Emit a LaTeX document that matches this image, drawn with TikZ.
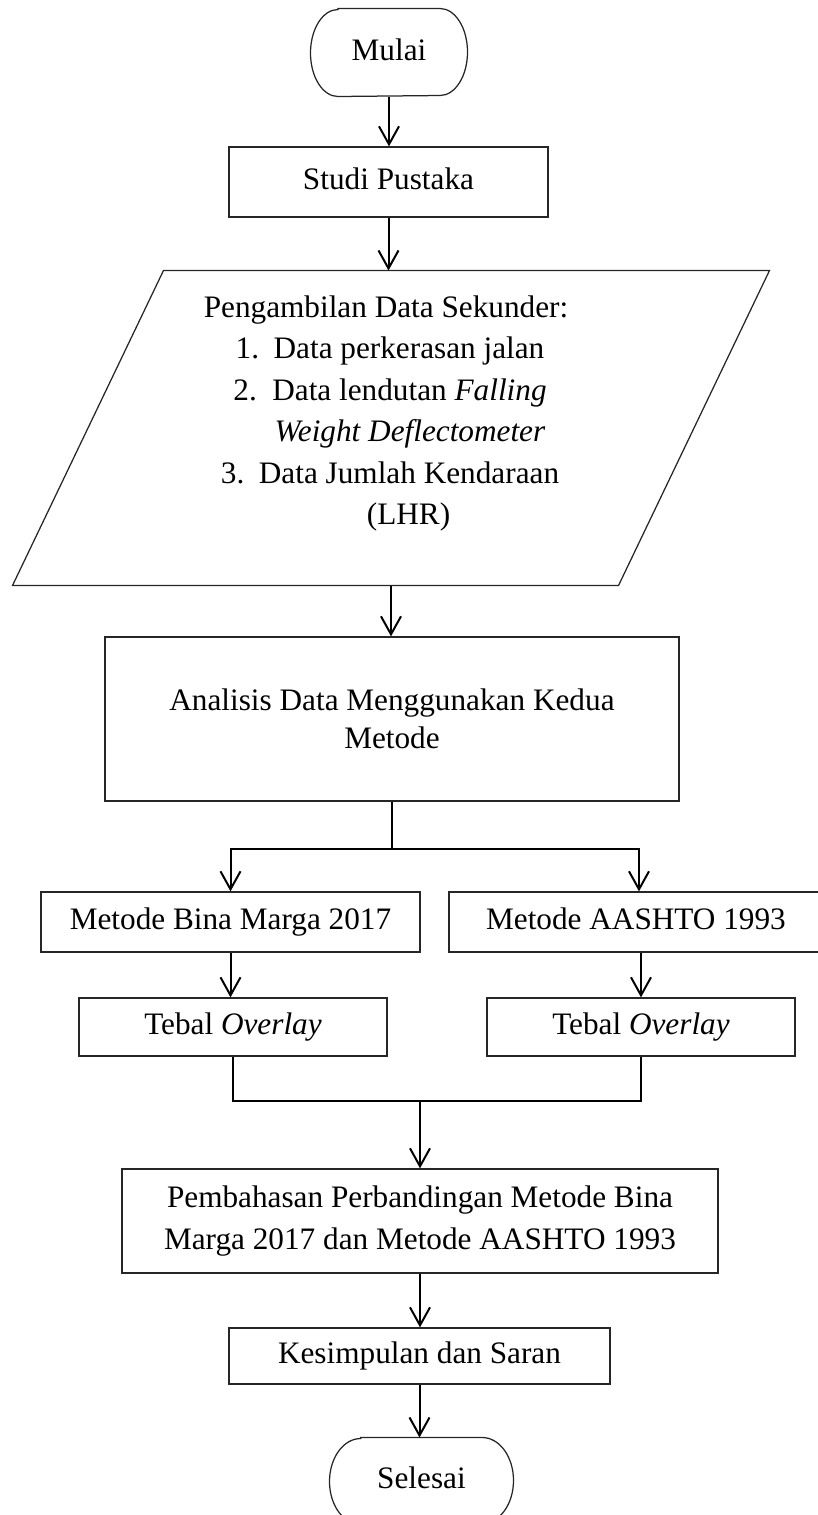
\documentclass[tikz,border=0pt]{standalone}
\usepackage{fontspec}
\setmainfont{Liberation Serif}
\usetikzlibrary{arrows.meta}
\begin{document}
\begin{tikzpicture}[x=0.4pt,y=0.4pt,
  txt/.style={inner sep=0pt, align=center, font=\fontsize{12.5}{16.8}\selectfont},
  one/.style={text height=8.6pt, text depth=2.6pt},
  box/.style={txt, draw=black!85, line width=0.5pt},
  outline/.style={draw=black!85, line width=0.5pt},
  arr/.style={-{Straight Barb[length=7.2pt,width=8pt]}, line width=0.8pt},
  link/.style={line width=0.8pt}]
\useasboundingbox (0,0) rectangle (818,-1515);
\clip (0,0) rectangle (818,-1515);

% Mulai (terminator)
\node[txt, one, minimum width=62.4pt, minimum height=34.8pt] (mulai) at (389,-52.5) {Mulai};
\draw[outline] ([xshift=11pt]mulai.north west) -- ([xshift=-11pt]mulai.north east)
  arc[start angle=90, end angle=-90, x radius=11pt, y radius=17.4pt]
  -- ([xshift=11pt]mulai.south west)
  arc[start angle=270, end angle=90, x radius=11pt, y radius=17.4pt] -- cycle;

\node[box, one, minimum width=127.6pt, minimum height=28pt] (studi) at (388.5,-182) {Studi Pustaka};

% data (parallelogram)
\node[inner sep=0pt, minimum width=302.4pt, minimum height=125.6pt] (data) at (391,-428) {};
\draw[outline] ([xshift=60.4pt]data.north west) -- (data.north east)
  -- ([xshift=-60.4pt]data.south east) -- (data.south west) -- cycle;
\node[txt, font=\fontsize{12.5}{16.56}\selectfont] (datatext) at (390,-413.5)
  {Pengambilan Data Sekunder:\hspace*{3.2pt}\\
   \makebox[15.2pt][l]{1.}Data perkerasan jalan\\
   \makebox[15.6pt][l]{2.}Data lendutan \textit{Falling}\\
   \hspace*{16pt}\textit{Weight Deflectometer}\\
   \makebox[15.2pt][l]{3.}Data Jumlah Kendaraan\\
   \hspace*{14.8pt}(LHR)};

\node[box, minimum width=229.6pt, minimum height=65.6pt, font=\fontsize{12.5}{15.2}\selectfont] (anal) at (392,-719)
  {Analisis Data Menggunakan Kedua\\Metode};

\node[box, one, minimum width=151.6pt, minimum height=24pt] (bm) at (230.5,-922) {Metode Bina Marga 2017};
\node[box, one, minimum width=149.6pt, minimum height=24pt] (aashto) at (636,-922) {Metode AASHTO 1993};

\node[box, one, minimum width=123.2pt, minimum height=23.2pt] (tebal1) at (233,-1027) {Tebal \textit{Overlay}};
\node[box, one, minimum width=123.2pt, minimum height=23.2pt] (tebal2) at (641,-1027) {Tebal \textit{Overlay}};

\node[box, minimum width=238.4pt, minimum height=41.6pt] (bahas) at (420,-1221)
  {Pembahasan Perbandingan Metode Bina\\Marga 2017 dan Metode AASHTO 1993};

\node[box, one, minimum width=152.4pt, minimum height=22.4pt] (simpul) at (419.5,-1356) {Kesimpulan dan Saran};

% Selesai (terminator)
\node[txt, one, minimum width=73.2pt, minimum height=34.4pt] (selesai) at (421.5,-1481) {Selesai};
\draw[outline] ([xshift=12.5pt]selesai.north west) -- ([xshift=-12.5pt]selesai.north east)
  arc[start angle=90, end angle=-90, x radius=12.5pt, y radius=17.2pt]
  -- ([xshift=12.5pt]selesai.south west)
  arc[start angle=270, end angle=90, x radius=12.5pt, y radius=17.2pt] -- cycle;

% connectors
\draw[arr] (mulai.south) -- (mulai.south |- studi.north);
\draw[arr] (studi.south) -- (studi.south |- data.north);
\draw[arr] (data.south) -- (data.south |- anal.north);
\coordinate (split) at (392,-849);
\draw[link] (anal.south) -- (split);
\draw[arr] (split) -| (bm.north);
\draw[arr] (split) -| ([xshift=1.2pt]aashto.north);
\draw[arr] (bm.south) -- (bm.south |- tebal1.north);
\draw[arr] (tebal2.north |- aashto.south) -- (tebal2.north);
\coordinate (join) at (420,-1101);
\draw[link] (tebal1.south) |- (join) -| (tebal2.south);
\draw[arr] (join) -- (bahas.north);
\draw[arr] (bahas.south) -- (bahas.south |- simpul.north);
\draw[arr] (simpul.south) -- (simpul.south |- selesai.north);
\end{tikzpicture}
\end{document}
